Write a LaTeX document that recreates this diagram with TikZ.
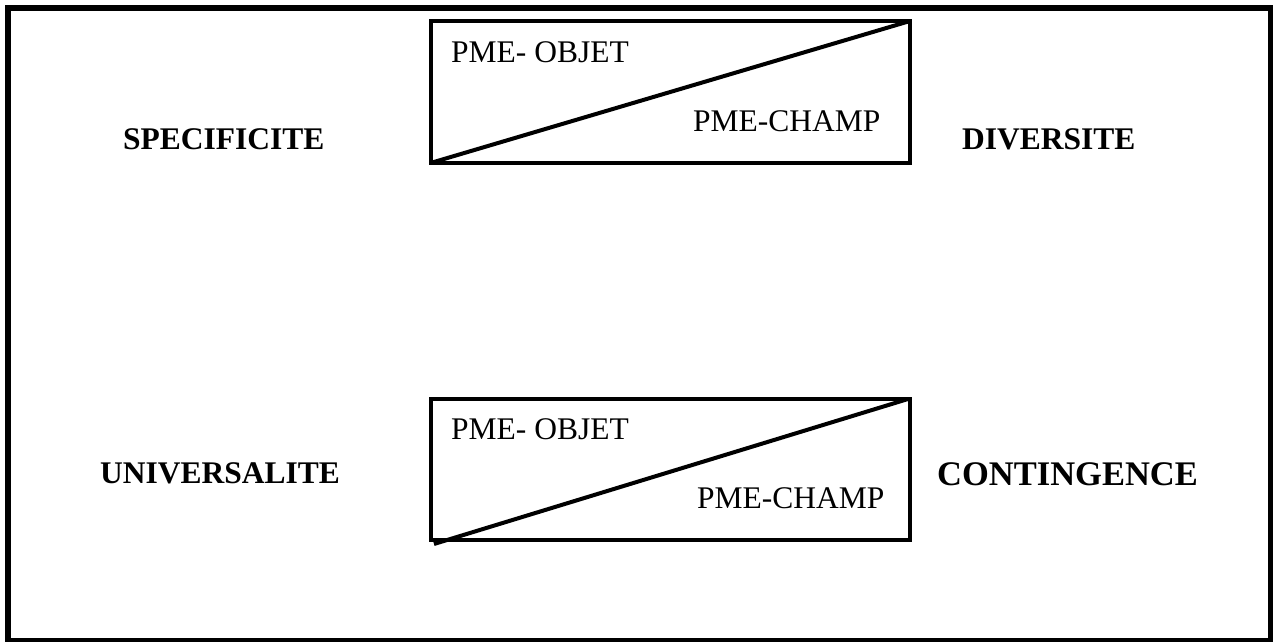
\documentclass[tikz,border=0pt]{standalone}
\usepackage{fontspec}
\setmainfont{Liberation Serif}
\begin{document}
\begin{tikzpicture}[x=1pt,y=-1pt,
  frame/.style={line width=5.5pt},
  split/.style={line width=4pt},
  cell/.style={anchor=base west,inner sep=0pt,font=\fontsize{31.5}{36}\selectfont},
  pole/.style={anchor=base west,inner sep=0pt,font=\fontsize{31.5}{36}\selectfont\bfseries},
  bigpole/.style={anchor=base west,inner sep=0pt,font=\fontsize{34.5}{40}\selectfont\bfseries}]
\useasboundingbox (0,0) rectangle (1279,642);
\fill[white] (0,0) rectangle (1279,642);
% outer frame
\draw[frame] (8,8) rectangle (1270.5,640.5);

% upper box, split by its diagonal
\draw[split] (430.5,21) rectangle (910,163);
\draw[split] (430.5,163) -- (910,21);
\node[cell] (objA) at (451,63) {PME- OBJET};
\node[cell] (champA) at (693,131) {PME-CHAMP};

% lower box, split by its diagonal
\draw[split] (430.5,399) rectangle (910,540);
\draw[split] (434,544) -- (908,399);
\node[cell] (objB) at (451,439) {PME- OBJET};
\node[cell] (champB) at (697,508) {PME-CHAMP};

% poles on either side
\node[pole] (spec) at (123,149) {SPECIFICITE};
\node[pole] (div) at (962,149) {DIVERSITE};
\node[pole] (univ) at (100,483) {UNIVERSALITE};
\node[bigpole] (cont) at (937,485) {CONTINGENCE};
\end{tikzpicture}
\end{document}
